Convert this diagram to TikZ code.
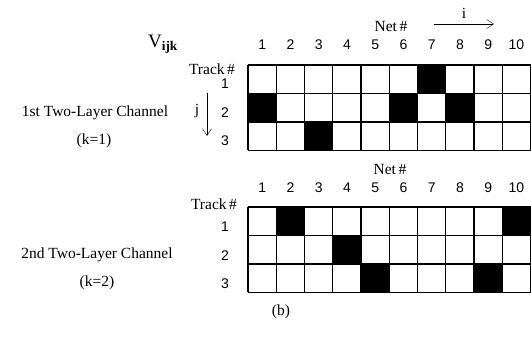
\documentclass[tikz,border=0pt]{standalone}
\usepackage{fontspec}
\setmainfont{Liberation Serif}
\newfontfamily\numfont{Liberation Sans}
\usetikzlibrary{arrows.meta}
\tikzset{
  lbl/.style={font=\fontsize{15.5}{17}\selectfont},
  num/.style={font=\numfont\fontsize{14}{16}\selectfont},
  grid line/.style={line width=1.1pt},
}
\begin{document}
\begin{tikzpicture}[x=1pt, y=-1pt, >={Straight Barb[length=7pt,width=9pt]}]
  \useasboundingbox (0,0) rectangle (531,339);

  % Top channel (k=1)
  \foreach \c/\r in {7/1, 1/2, 6/2, 8/2, 3/3}
    \fill (248+28.25*\c-28.25,65+28.5*\r-28.5) rectangle ++(28.25,28.5);
  \foreach \c in {0,...,10}
    \draw[grid line] (248+28.25*\c,65) -- ++(0,85.5);
  \foreach \r in {0,...,3}
    \draw[grid line] (248,65+28.5*\r) -- ++(282.5,0);
  \foreach \c in {1,...,10}
    \node[num] (ta\c) at (248+28.25*\c-14.1,45) {\c};
  \foreach \r in {1,2,3}
    \node[num] (tr\r) at (225,84+28.5*\r-28.5) {\r};

  \node[lbl] (Vijk) at (163,44) {\fontsize{19}{21}\selectfont V\textsubscript{\textbf{ijk}}};
  \node[lbl] (nettop) at (391,27) {Net\,\#};
  \node[lbl] (tracktop) at (212,69) {Track\,\#};
  \coordinate (i0) at (434,24);
  \coordinate (i1) at (494,24);
  \draw[->] (i0) -- (i1);
  \node[lbl] (ilbl) at (464,13) {i};
  \coordinate (j0) at (207,93);
  \coordinate (j1) at (207,136);
  \draw[->] (j0) -- (j1);
  \node[lbl] (jlbl) at (197,111) {j};
  \node[lbl] (ch1) at (95,113) {1st Two-Layer Channel};
  \node[lbl] (k1) at (94,141) {(k=1)};

  % Bottom channel (k=2)
  \foreach \c/\r in {2/1, 10/1, 4/2, 5/3, 9/3}
    \fill (248+28.25*\c-28.25,207+28.5*\r-28.5) rectangle ++(28.25,28.5);
  \foreach \c in {0,...,10}
    \draw[grid line] (248+28.25*\c,207) -- ++(0,85.5);
  \foreach \r in {0,...,3}
    \draw[grid line] (248,207+28.5*\r) -- ++(282.5,0);
  \foreach \c in {1,...,10}
    \node[num] (ba\c) at (248+28.25*\c-14.1,188) {\c};
  \foreach \r in {1,2,3}
    \node[num] (br\r) at (225,227+28.5*\r-28.5) {\r};

  \node[lbl] (netbot) at (390,170) {Net\,\#};
  \node[lbl] (trackbot) at (214,204) {Track\,\#};
  \node[lbl] (ch2) at (97,255) {2nd Two-Layer Channel};
  \node[lbl] (k2) at (97,283) {(k=2)};

  \node[lbl] (cap) at (281,312) {(b)};
\end{tikzpicture}
\end{document}
